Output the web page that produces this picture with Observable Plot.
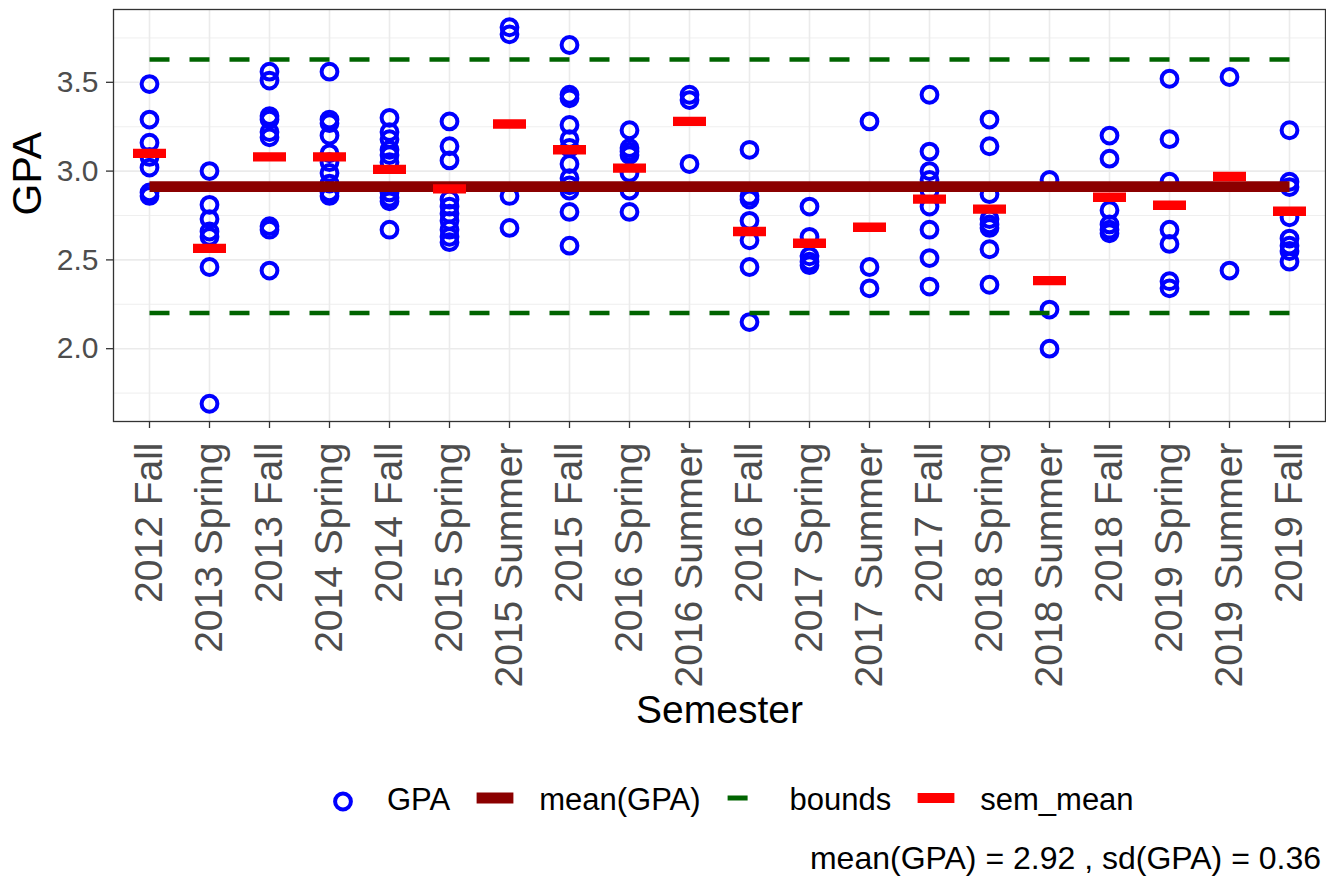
<!DOCTYPE html>
<html>
<head>
<meta charset="utf-8">
<script src="https://cdn.jsdelivr.net/npm/d3@7"></script>
<script src="https://cdn.jsdelivr.net/npm/@observablehq/plot@0.6"></script>
<style>
  body { margin: 0; background: #fff; font-family: "Liberation Sans", Arial, sans-serif; }
  #wrap { position: relative; width: 1326px; height: 884px; overflow: hidden; background: #fff; }
  #chart { position: absolute; left: 0; top: 0; }
  #legend { position: absolute; left: 320px; top: 780px; height: 40px; display: flex; align-items: center;
            font-size: 31px; color: #000; white-space: nowrap; }
  #legend svg { display: block; }
  #legend .lab { margin-left: 21px; margin-right: 22px; }
  #caption { position: absolute; right: 5px; top: 840px; font-size: 32px; color: #000; white-space: nowrap; }
</style>
</head>
<body>
<div id="wrap">
  <div id="chart"></div>
  <div id="legend"></div>
  <div id="caption"></div>
</div>
<script>
// ---------- data ----------
const semesters = ["2012 Fall","2013 Spring","2013 Fall","2014 Spring","2014 Fall","2015 Spring",
  "2015 Summer","2015 Fall","2016 Spring","2016 Summer","2016 Fall","2017 Spring","2017 Summer",
  "2017 Fall","2018 Spring","2018 Summer","2018 Fall","2019 Spring","2019 Summer","2019 Fall"];

const gpaBySemester = [
  [3.49, 3.29, 3.16, 3.08, 3.02, 2.88, 2.86],
  [3.00, 2.81, 2.73, 2.66, 2.63, 2.46, 1.69],
  [3.56, 3.51, 3.31, 3.29, 3.22, 3.19, 2.69, 2.67, 2.44],
  [3.56, 3.29, 3.27, 3.20, 3.10, 3.05, 2.99, 2.93, 2.88, 2.86],
  [3.30, 3.22, 3.18, 3.12, 3.09, 3.05, 2.88, 2.85, 2.83, 2.67],
  [3.28, 3.14, 3.06, 2.84, 2.80, 2.76, 2.72, 2.67, 2.63, 2.60],
  [3.81, 3.77, 2.86, 2.68],
  [3.71, 3.43, 3.41, 3.26, 3.18, 3.13, 3.04, 2.96, 2.92, 2.89, 2.77, 2.58],
  [3.23, 3.13, 3.11, 3.09, 2.99, 2.89, 2.77],
  [3.43, 3.40, 3.04],
  [3.12, 2.86, 2.84, 2.72, 2.61, 2.46, 2.15],
  [2.80, 2.63, 2.52, 2.49, 2.47],
  [3.28, 2.46, 2.34],
  [3.43, 3.11, 3.00, 2.95, 2.89, 2.80, 2.67, 2.51, 2.35],
  [3.29, 3.14, 2.87, 2.73, 2.70, 2.68, 2.56, 2.36],
  [2.95, 2.22, 2.00],
  [3.20, 3.07, 2.78, 2.70, 2.67, 2.65],
  [3.52, 3.18, 2.94, 2.67, 2.59, 2.38, 2.34],
  [3.53, 2.44],
  [3.23, 2.94, 2.91, 2.74, 2.62, 2.58, 2.55, 2.49]
];

const semMean = [3.10, 2.565, 3.08, 3.08, 3.01, 2.90, 3.265, 3.12, 3.017, 3.28,
  2.66, 2.594, 2.684, 2.842, 2.786, 2.383, 2.853, 2.808, 2.97, 2.774];

const meanGPA = 2.913;
const upperBound = 3.628;
const lowerBound = 2.201;

const yTicks = [2.0, 2.5, 3.0, 3.5];
const yMinorTicks = [1.75, 2.25, 2.75, 3.25, 3.75];

const legendLabels = ["GPA", "mean(GPA)", "bounds", "sem_mean"];
const captionText = "mean(GPA) = 2.92 , sd(GPA) = 0.36";

// ---------- tables ----------
const points = semesters.flatMap((s, i) => gpaBySemester[i].map(g => ({semester: s, gpa: g})));
const semTable = semesters.map((s, i) => ({semester: s, sem: semMean[i]}));
const ends = [semesters[0], semesters[semesters.length - 1]];
const meanLine = ends.map(s => ({x: s, y: meanGPA}));
const upperLine = ends.map(s => ({x: s, y: upperBound}));
const lowerLine = ends.map(s => ({x: s, y: lowerBound}));

const barSymbol = {
  draw(ctx) {
    ctx.moveTo(-16.5, -4.7); ctx.lineTo(16.5, -4.7); ctx.lineTo(16.5, 4.7); ctx.lineTo(-16.5, 4.7); ctx.closePath();
  }
};

const W = 1326, H = 745;
const chart = Plot.plot({
  width: W, height: H,
  marginLeft: 113, marginRight: 1, marginTop: 9, marginBottom: H - 421,
  style: {fontFamily: '"Liberation Sans", Arial, sans-serif', background: "white", overflow: "visible"},
  x: {type: "point", domain: semesters, padding: 0.6, round: false},
  y: {domain: [1.59, 3.91]},
  marks: [
    Plot.ruleY(yMinorTicks, {stroke: "#ebebeb", strokeWidth: 0.8}),
    Plot.ruleY(yTicks, {stroke: "#ebebeb", strokeWidth: 1.6}),
    Plot.ruleX(semesters, {stroke: "#ebebeb", strokeWidth: 1.6}),
    Plot.dot(points, {x: "semester", y: "gpa", r: 7.9, stroke: "#0000ff", strokeWidth: 4, fill: "none"}),
    Plot.line(meanLine, {x: "x", y: "y", stroke: "#8b0000", strokeWidth: 10.7, strokeLinecap: "butt"}),
    Plot.line(upperLine, {x: "x", y: "y", stroke: "#006400", strokeWidth: 4.5, strokeDasharray: "20,20", strokeLinecap: "butt"}),
    Plot.line(lowerLine, {x: "x", y: "y", stroke: "#006400", strokeWidth: 4.5, strokeDasharray: "20,20", strokeLinecap: "butt"}),
    Plot.dot(semTable, {x: "semester", y: "sem", symbol: barSymbol, fill: "#ff0000", stroke: "none"}),
    Plot.frame({stroke: "#333333", strokeWidth: 1.3}),
    Plot.axisY({ticks: yTicks, tickFormat: d3.format(".1f"), tickSize: 7, tickPadding: 8, fontSize: 30,
                stroke: "#333333", fill: "#4d4d4d", strokeWidth: 1.3, label: null}),
    Plot.axisX({tickRotate: -90, tickSize: 7, tickPadding: 14, fontSize: 39,
                stroke: "#333333", fill: "#4d4d4d", strokeWidth: 1.3, label: null}),
    Plot.text(["GPA"], {text: d => d, frameAnchor: "left", dx: -86, rotate: -90, fontSize: 41, fill: "#000", lineAnchor: "middle"}),
    Plot.text(["Semester"], {text: d => d, frameAnchor: "bottom", dy: 301, fontSize: 39, fill: "#000", lineAnchor: "bottom"})
  ]
});
document.getElementById("chart").appendChild(chart);

// ---------- legend ----------
const keyDraw = [
  s => s.append("circle").attr("cx", 23).attr("cy", 21.5).attr("r", 7.9).attr("fill", "none").attr("stroke", "#0000ff").attr("stroke-width", 4),
  s => s.append("rect").attr("x", 4.6).attr("y", 12.5).attr("width", 36.8).attr("height", 11).attr("fill", "#8b0000"),
  s => s.append("rect").attr("x", 4.6).attr("y", 15.5).attr("width", 20).attr("height", 5).attr("fill", "#006400"),
  s => s.append("rect").attr("x", 4.6).attr("y", 13).attr("width", 36.8).attr("height", 10).attr("fill", "#ff0000")
];
const legend = d3.select("#legend");
legendLabels.forEach((lab, i) => {
  const svg = legend.append("svg").attr("width", 46).attr("height", 40);
  keyDraw[i](svg);
  legend.append("span").attr("class", "lab").text(lab);
});
document.getElementById("caption").textContent = captionText;
</script>
</body>
</html>
